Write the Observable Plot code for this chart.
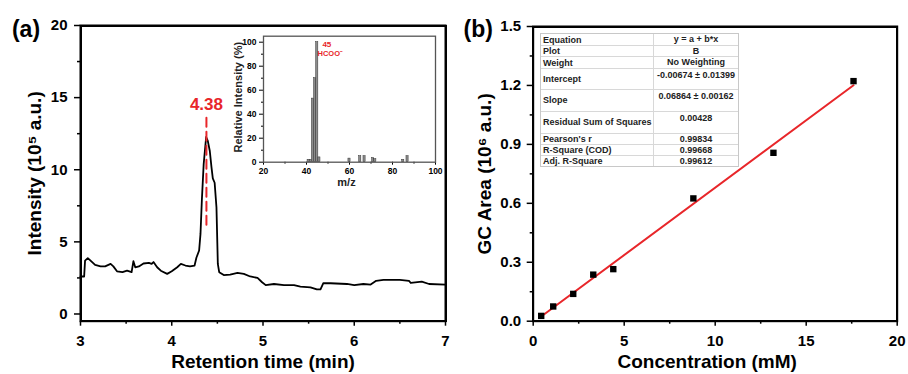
<!DOCTYPE html>
<html><head><meta charset="utf-8">
<script src="https://cdn.jsdelivr.net/npm/d3@7"></script>
<script src="https://cdn.jsdelivr.net/npm/@observablehq/plot@0.6"></script>
<style>
body{margin:0;background:#fff;}
#root{position:relative;width:908px;height:374px;overflow:hidden;font-family:"Liberation Sans",Arial,sans-serif;font-weight:bold;}
#root > svg{position:absolute;}
.box{position:absolute;border:2px solid #000;box-sizing:border-box;pointer-events:none;}
#tbl{position:absolute;left:540px;top:33px;width:199px;border:1px solid #c8c8c8;background:#fff;font-size:9px;color:#222;box-sizing:border-box;}
#tbl .row{display:flex;border-top:1px solid #d8d8d8;box-sizing:border-box;}
#tbl .row:first-child{border-top:none;}
#tbl .lab{width:113px;border-right:1px solid #d8d8d8;padding-left:2px;display:flex;align-items:center;box-sizing:border-box;}
#tbl .val{flex:1;text-align:center;box-sizing:border-box;}
</style></head><body><div id="root"></div>
<script>
// ---------- Panel (a): chromatogram ----------
const retentionTime = [3.0,3.04,3.05,3.08,3.11,3.16,3.22,3.27,3.33,3.36,3.4,3.46,3.51,3.56,3.58,3.6,3.64,3.69,3.75,3.78,3.8,3.84,3.88,3.95,4.0,4.06,4.1,4.15,4.2,4.25,4.27,4.3,4.315,4.33,4.35,4.377,4.395,4.417,4.435,4.45,4.47,4.49,4.505,4.52,4.57,4.64,4.72,4.79,4.86,4.94,4.99,5.03,5.12,5.23,5.34,5.41,5.52,5.59,5.63,5.66,5.74,5.92,6.0,6.1,6.18,6.24,6.32,6.5,6.6,6.62,6.74,6.82,7.0];
const intensity = [2.6,2.6,3.7,3.87,3.7,3.4,3.3,3.3,3.47,3.3,2.96,2.9,3.0,2.9,3.66,3.24,3.3,3.5,3.54,3.47,3.6,3.24,3.0,2.78,2.96,3.24,3.47,3.36,3.3,3.36,3.9,4.4,5.55,7.9,10.4,12.27,12.0,11.3,10.2,9.4,9.1,7.4,3.47,2.9,2.7,2.73,2.85,2.78,2.6,2.5,2.2,2.0,2.08,2.0,2.0,1.9,1.85,1.7,1.7,2.13,2.13,2.08,2.0,2.08,2.04,2.3,2.36,2.36,2.3,2.15,2.25,2.08,2.04];
const chromXTicks = [3,4,5,6,7];
const chromXMinor = [3.5,4.5,5.5,6.5];
const chromYTicks = [0,5,10,15,20];
const chromYMinor = [2.5,7.5,12.5,17.5];
const peakLabel = ["4.38"];
const peakX = [4.38];
const peakMarkerY = [13.6, 5.9];

// ---------- Inset: mass spectrum ----------
const msMz = [41,42,43,44,45,46,60,65,67,71,72,85,87];
const msRel = [2,2,53,70,100,4,3,5,5,3.5,2.5,2,5];
const msXTicks = [20,40,60,80,100];
const msXMinor = [30,50,70,90];
const msYTicks = [0,20,40,60,80,100];
const msYMinor = [10,30,50,70,90];
const msLabels = ["45","HCOO\u207B"];

// ---------- Panel (b): calibration ----------
const concentration = [0.44,1.1,2.2,3.3,4.4,8.8,13.2,17.6];
const gcArea = [0.027,0.075,0.139,0.237,0.265,0.625,0.857,1.222];
const fitX = [0.44,17.6];
const fitY = [0.024,1.201];
const calXTicks = [0,5,10,15,20];
const calXMinor = [2.5,7.5,12.5,17.5];
const calYTicks = [0,0.3,0.6,0.9,1.2,1.5];
const calYMinor = [0.15,0.45,0.75,1.05,1.35];
const tableLabels = ["Equation","Plot","Weight","Intercept","Slope","Residual Sum of Squares","Pearson's r","R-Square (COD)","Adj. R-Square"];
const tableValues = ["y = a + b*x","B","No Weighting","-0.00674 \u00B1 0.01399","0.06864 \u00B1 0.00162","0.00428","0.99834","0.99668","0.99612"];

const FONT = '"Liberation Sans", Arial, sans-serif';
const RED = "#e8262a";
const blank = () => "";
const baseStyle = {fontFamily: FONT, fontWeight: "bold", fontSize: "15px", background: "transparent", color: "#000", overflow: "visible"};

const root = document.getElementById("root");
function place(svg, left, top) { svg.style.left = left + "px"; svg.style.top = top + "px"; root.appendChild(svg); }
function frameBox(svgLeft, svgTop, w, h, ml, mr, mt, mb) {
  const d = document.createElement("div");
  d.className = "box";
  d.style.left = (svgLeft + ml - 0.5) + "px";
  d.style.top = (svgTop + mt - 0.5) + "px";
  d.style.width = (w - ml - mr + 2) + "px";
  d.style.height = (h - mt - mb + 2) + "px";
  root.appendChild(d);
}

// Panel (a)
const pa = Plot.plot({
  width: 454, height: 374, marginLeft: 80, marginRight: 9, marginTop: 25, marginBottom: 53.3,
  x: {domain: [3,7]}, y: {domain: [-0.5,20]},
  style: baseStyle,
  marks: [
    Plot.axisX({ticks: chromXTicks, tickSize: 5, tickPadding: 9, tickFormat: d => String(d), label: null, strokeWidth: 1.5, fontSize: 15}),
    Plot.axisX({ticks: chromXMinor, tickSize: 3, tickFormat: blank, label: null, strokeWidth: 1.5}),
    Plot.axisY({ticks: chromYTicks, tickSize: 6, tickPadding: 7, tickFormat: d => String(d), label: null, strokeWidth: 1.5, fontSize: 15}),
    Plot.axisY({ticks: chromYMinor, tickSize: 3, tickFormat: blank, label: null, strokeWidth: 1.5}),
    Plot.line(retentionTime, {x: retentionTime, y: intensity, stroke: "#000", strokeWidth: 1.8}),
    Plot.line(peakMarkerY, {x: [peakX[0], peakX[0]], y: peakMarkerY, stroke: RED, strokeWidth: 2, strokeDasharray: "9,5"}),
    Plot.text(peakLabel, {x: peakX, y: [14.55], text: d => d, fill: RED, fontSize: 17, fontWeight: "bold", textAnchor: "middle", lineAnchor: "middle"}),
    Plot.text(["Intensity (10\u2075 a.u.)"], {frameAnchor: "left", dx: -46, rotate: -90, textAnchor: "middle", lineAnchor: "middle", fontSize: 19, fontWeight: "bold"}),
    Plot.text(["Retention time (min)"], {frameAnchor: "bottom", dy: 41, textAnchor: "middle", lineAnchor: "middle", fontSize: 19, fontWeight: "bold"}),
    Plot.text(["(a)"], {frameAnchor: "top-left", dx: -54.5, dy: 4, textAnchor: "middle", lineAnchor: "middle", fontSize: 23, fontWeight: "bold"}),
    Plot.frame({stroke: "#000", strokeWidth: 2})
  ]
});
place(pa, 0, 0);
frameBox(0, 0, 454, 374, 80, 9, 25, 53.3);

// Inset
const msData = msMz.map((m, i) => ({m, r: msRel[i]}));
const inset = Plot.plot({
  width: 230, height: 170, marginLeft: 50, marginRight: 8, marginTop: 7.7, marginBottom: 36.3,
  x: {domain: [20,100]}, y: {domain: [0,105]},
  style: {...baseStyle, fontSize: "8.5px"},
  marks: [
    Plot.rectY(msData, {x1: d => d.m - 0.5, x2: d => d.m + 0.5, y: "r", fill: "#8c8c8c", stroke: "#333", strokeWidth: 0.5}),
    Plot.axisX({ticks: msXTicks, tickSize: 3, tickPadding: 3, tickFormat: d => String(d), label: null, fontSize: 8.5}),
    Plot.axisX({ticks: msXMinor, tickSize: 2, tickFormat: blank, label: null}),
    Plot.axisY({ticks: msYTicks, tickSize: 4, tickPadding: 3, tickFormat: d => String(d), label: null, fontSize: 8.5}),
    Plot.axisY({ticks: msYMinor, tickSize: 2, tickFormat: blank, label: null}),
    Plot.text([msLabels[0]], {x: [47.4], y: [98], text: d => d, fill: RED, textAnchor: "start", lineAnchor: "middle", fontSize: 8, fontWeight: "bold"}),
    Plot.text([msLabels[1]], {x: [45.1], y: [90.3], text: d => d, fill: RED, textAnchor: "start", lineAnchor: "middle", fontSize: 7.5, fontWeight: "bold"}),
    Plot.text(["Relative Intensity (%)"], {frameAnchor: "left", dx: -25, dy: -2, rotate: -90, textAnchor: "middle", lineAnchor: "middle", fontSize: 11, fontWeight: "bold", fill: "#222"}),
    Plot.text(["m/z"], {frameAnchor: "bottom", dx: -3, dy: 20.5, textAnchor: "middle", lineAnchor: "middle", fontSize: 11, fontWeight: "bold", fill: "#222"}),
    Plot.frame({stroke: "#555", strokeWidth: 1.3})
  ]
});
place(inset, 213, 28);

// Panel (b)
const calData = concentration.map((c, i) => ({c, a: gcArea[i]}));
const pb = Plot.plot({
  width: 454, height: 374, marginLeft: 78.7, marginRight: 11.3, marginTop: 26, marginBottom: 53.3,
  x: {domain: [0,20]}, y: {domain: [0,1.5]},
  style: baseStyle,
  marks: [
    Plot.axisX({ticks: calXTicks, tickSize: 5, tickPadding: 9, tickFormat: d => String(d), label: null, strokeWidth: 1.5, fontSize: 15}),
    Plot.axisX({ticks: calXMinor, tickSize: 3, tickFormat: blank, label: null, strokeWidth: 1.5}),
    Plot.axisY({ticks: calYTicks, tickSize: 6, tickPadding: 6, tickFormat: d => d.toFixed(1), label: null, strokeWidth: 1.5, fontSize: 15}),
    Plot.axisY({ticks: calYMinor, tickSize: 3, tickFormat: blank, label: null, strokeWidth: 1.5}),
    Plot.line(fitX, {x: fitX, y: fitY, stroke: RED, strokeWidth: 2}),
    Plot.dot(calData, {x: "c", y: "a", symbol: "square", r: 3.6, fill: "#000"}),
    Plot.text(["GC Area (10\u2076 a.u.)"], {frameAnchor: "left", dx: -48.7, rotate: -90, textAnchor: "middle", lineAnchor: "middle", fontSize: 19, fontWeight: "bold"}),
    Plot.text(["Concentration (mM)"], {frameAnchor: "bottom", dx: -8, dy: 41, textAnchor: "middle", lineAnchor: "middle", fontSize: 19, fontWeight: "bold"}),
    Plot.text(["(b)"], {frameAnchor: "top-left", dx: -55, dy: 3, textAnchor: "middle", lineAnchor: "middle", fontSize: 23, fontWeight: "bold"}),
    Plot.frame({stroke: "#000", strokeWidth: 2})
  ]
});
place(pb, 454, 0);
frameBox(454, 0, 454, 374, 78.7, 11.3, 26, 53.3);

// Fit-statistics table
const rowHeights = [11.4,11,11.3,21.3,22,22,11.4,11,11];
const tbl = document.createElement("div");
tbl.id = "tbl";
tableLabels.forEach((lab, i) => {
  const row = document.createElement("div");
  row.className = "row";
  row.style.height = rowHeights[i] + "px";
  const tall = rowHeights[i] > 15;
  const l = document.createElement("div"); l.className = "lab"; l.textContent = lab;
  const v = document.createElement("div"); v.className = "val"; v.textContent = tableValues[i];
  v.style.lineHeight = tall ? "13px" : (rowHeights[i] - 1) + "px";
  l.style.lineHeight = "10px";
  row.appendChild(l); row.appendChild(v);
  tbl.appendChild(row);
});
root.appendChild(tbl);
</script>
</body></html>
